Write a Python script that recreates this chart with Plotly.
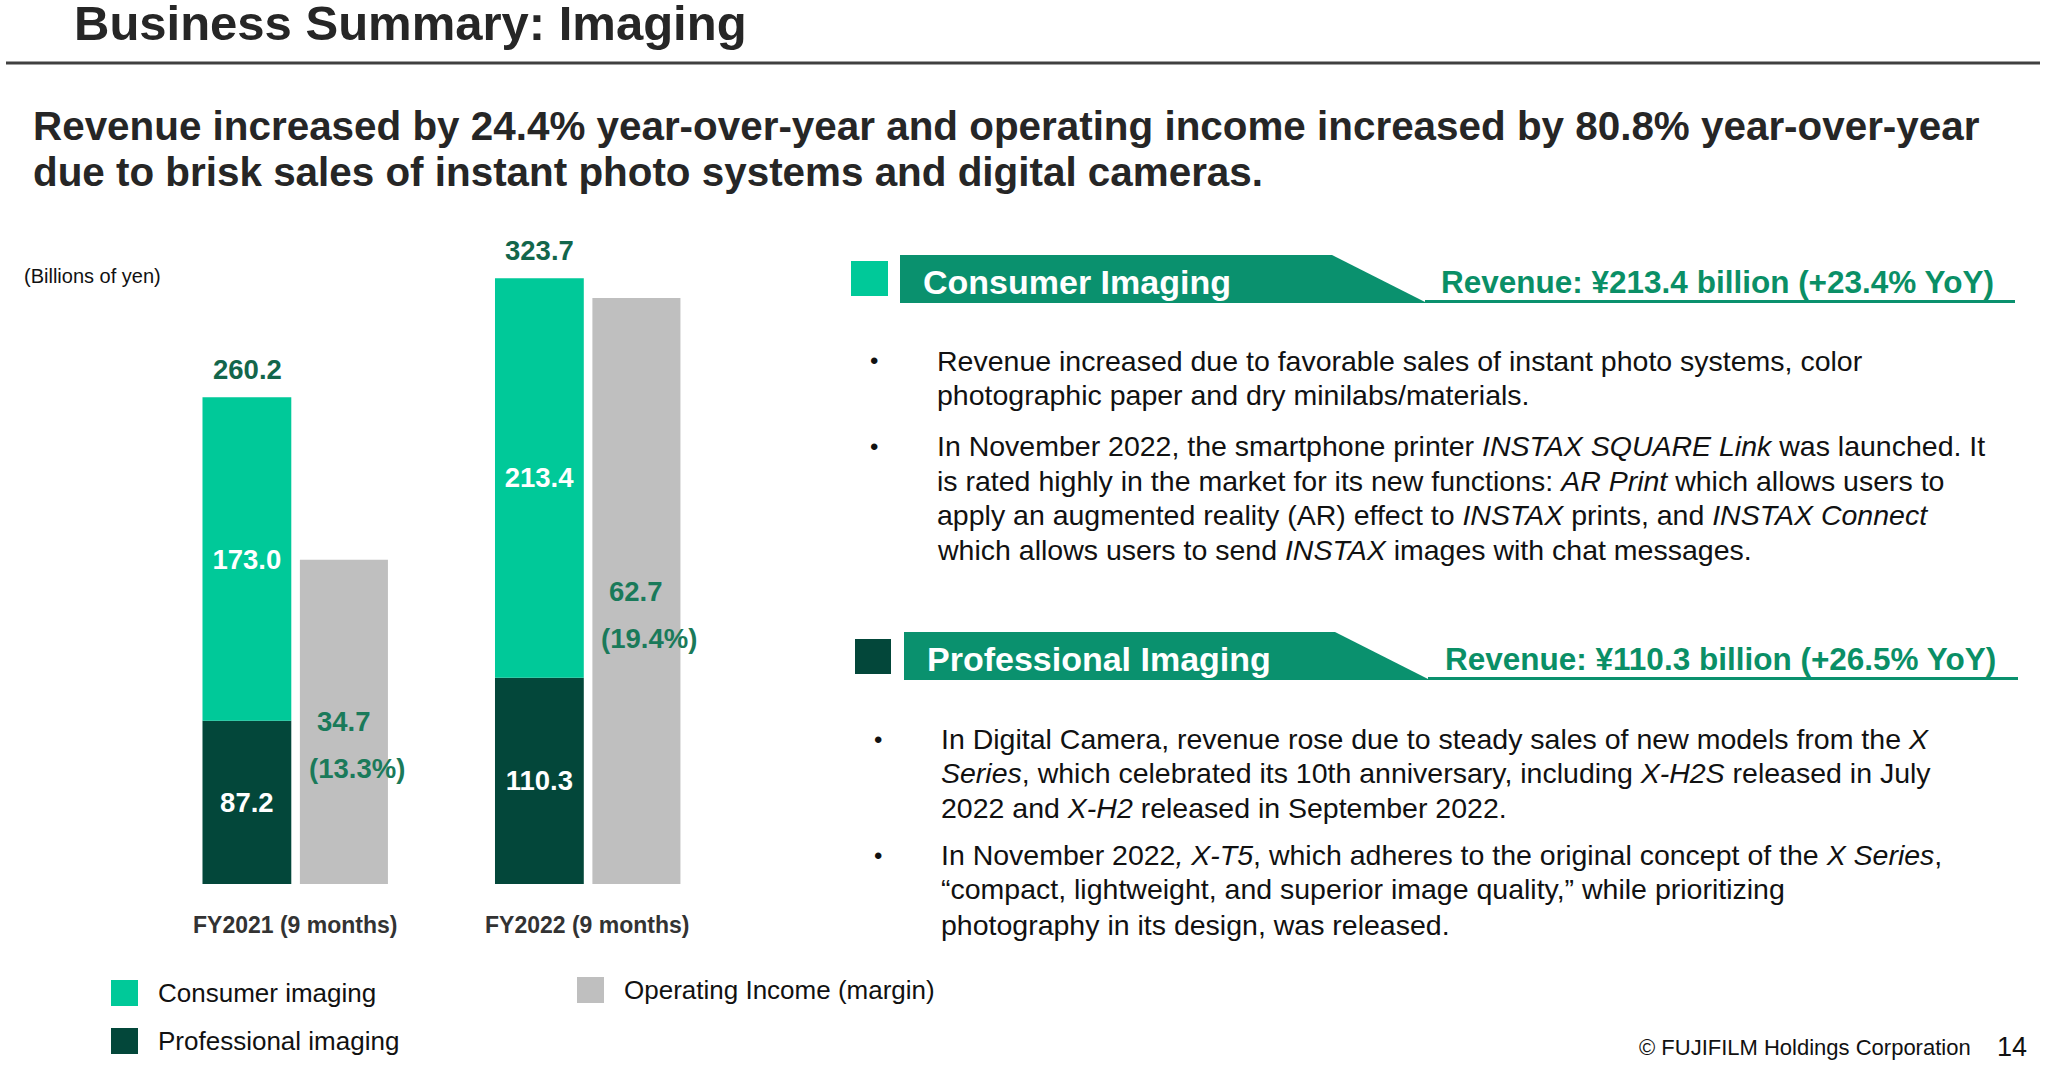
import plotly.graph_objects as go

# ---------------- data ----------------
categories = ["FY2021 (9 months)", "FY2022 (9 months)"]
consumer = [173.0, 213.4]
professional = [87.2, 110.3]
op_income = [34.7, 62.7]
op_margin = [13.3, 19.4]
legend_labels = ["Consumer imaging", "Professional imaging", "Operating Income (margin)"]

title_text = "Business Summary: Imaging"
subtitle_lines = [
    "Revenue increased by 24.4% year-over-year and operating income increased by 80.8% year-over-year",
    "due to brisk sales of instant photo systems and digital cameras.",
]
unit_text = "(Billions of yen)"

seg_names = ["Consumer Imaging", "Professional Imaging"]
seg_revenue = ["Revenue: ¥213.4 billion (+23.4% YoY)", "Revenue: ¥110.3 billion (+26.5% YoY)"]
consumer_bullets = [
    ["Revenue increased due to favorable sales of instant photo systems, color",
     "photographic paper and dry minilabs/materials."],
    ["In November 2022, the smartphone printer <i>INSTAX SQUARE Link</i> was launched. It",
     "is rated highly in the market for its new functions: <i>AR Print</i> which allows users to",
     "apply an augmented reality (AR) effect to <i>INSTAX</i> prints, and <i>INSTAX Connect</i>",
     "which allows users to send <i>INSTAX</i> images with chat messages."],
]
professional_bullets = [
    ["In Digital Camera, revenue rose due to steady sales of new models from the <i>X</i>",
     "<i>Series</i>, which celebrated its 10th anniversary, including <i>X-H2S</i> released in July",
     "2022 and <i>X-H2</i> released in September 2022."],
    ["In November 2022<i>, X-T5</i>, which adheres to the original concept of the <i>X Series</i>,",
     "“compact, lightweight, and superior image quality,” while prioritizing",
     "photography in its design, was released."],
]
footer_text = "© FUJIFILM Holdings Corporation"
page_no = "14"

# ---------------- style ----------------
W, H = 2048, 1080
FONT = "Liberation Sans"
C_TEAL = "#00C999"
C_DARK = "#03473A"
C_GRAY = "#BFBFBF"
C_BANNER = "#0A916E"
C_REV = "#0A8F66"
C_TOTAL = "#13664B"
C_OPLBL = "#1A7A5A"


def px(x):
    return x / W


def py(y):
    return 1 - y / H


totals = [round(c + p, 1) for c, p in zip(consumer, professional)]

fig = go.Figure()
fig.add_trace(go.Bar(
    x=categories, y=professional, name=legend_labels[1],
    marker=dict(color=C_DARK, line=dict(width=0)),
    width=0.3036, offset=-0.317,
    texttemplate="%{y:.1f}", textposition="inside", insidetextanchor="middle",
    textangle=0, textfont=dict(family=FONT, size=27.5, color="white", weight="bold"),
    showlegend=False, yaxis="y",
))
fig.add_trace(go.Bar(
    x=categories, y=consumer, base=professional, name=legend_labels[0],
    marker=dict(color=C_TEAL, line=dict(width=0)),
    width=0.3036, offset=-0.317,
    texttemplate="%{y:.1f}", textposition="inside", insidetextanchor="middle",
    textangle=0, textfont=dict(family=FONT, size=27.5, color="white", weight="bold"),
    showlegend=False, yaxis="y",
))
fig.add_trace(go.Bar(
    x=categories, y=op_income, name=legend_labels[2],
    marker=dict(color=C_GRAY, line=dict(width=0)),
    width=0.301, offset=0.016,
    showlegend=False, yaxis="y2",
))

annotations = []
shapes = []

# totals above stacked bars
for cat, t in zip(categories, totals):
    annotations.append(dict(x=cat, y=t, xref="x", yref="y", text=f"{t:.1f}",
                            xshift=-0.1635 * 292.5, yshift=28, showarrow=False,
                            xanchor="center", yanchor="middle",
                            font=dict(family=FONT, size=27.5, color=C_TOTAL, weight="bold")))
# operating income labels
for cat, v, m in zip(categories, op_income, op_margin):
    annotations.append(dict(x=cat, y=v / 2, xref="x", yref="y2", text=f"{v:.1f}",
                            xshift=0.1665 * 292.5, yshift=0, showarrow=False,
                            xanchor="center", yanchor="middle",
                            font=dict(family=FONT, size=27.5, color=C_OPLBL, weight="bold")))
    annotations.append(dict(x=cat, y=v / 2, xref="x", yref="y2", text=f"({m:.1f}%)",
                            xshift=0.1665 * 292.5 + 13, yshift=-47, showarrow=False,
                            xanchor="center", yanchor="middle",
                            font=dict(family=FONT, size=27.5, color=C_OPLBL, weight="bold")))
# category labels
for cat in categories:
    annotations.append(dict(x=cat, y=py(925), xref="x", yref="paper", text=cat,
                            showarrow=False, xanchor="center", yanchor="middle",
                            font=dict(family=FONT, size=23, color="#333333", weight="bold")))

# title / subtitle
annotations.append(dict(x=px(72), y=py(23), xref="paper", yref="paper", text=title_text,
                        showarrow=False, xanchor="left", yanchor="middle",
                        font=dict(family=FONT, size=49, color="#262626", weight="bold")))
shapes.append(dict(type="line", xref="paper", yref="paper", x0=px(6), x1=px(2040),
                   y0=py(63), y1=py(63), line=dict(color="#404040", width=3)))
for i, (line, yy) in enumerate(zip(subtitle_lines, [126, 172])):
    annotations.append(dict(x=px(31), y=py(yy), xref="paper", yref="paper", text=line,
                            showarrow=False, xanchor="left", yanchor="middle",
                            font=dict(family=FONT, size=40.4, color="#262626", weight="bold")))
annotations.append(dict(x=px(22), y=py(276), xref="paper", yref="paper", text=unit_text,
                        showarrow=False, xanchor="left", yanchor="middle",
                        font=dict(family=FONT, size=20, color="#111111")))

# legend
leg_items = [
    (legend_labels[0], C_TEAL, 111, 980),
    (legend_labels[1], C_DARK, 111, 1028),
    (legend_labels[2], C_GRAY, 577, 977),
]
for lbl, col, lx, ly in leg_items:
    shapes.append(dict(type="rect", xref="paper", yref="paper", x0=px(lx), x1=px(lx + 27),
                       y0=py(ly), y1=py(ly + 26), fillcolor=col, line=dict(width=0)))
    annotations.append(dict(x=px(lx + 45), y=py(ly + 13), xref="paper", yref="paper", text=lbl,
                            showarrow=False, xanchor="left", yanchor="middle",
                            font=dict(family=FONT, size=26, color="#111111")))

# right panel headers
headers = [
    dict(name=seg_names[0], rev=seg_revenue[0], sqc=C_TEAL, sq=(851, 261, 888, 296),
         left=900, top=255, bottom=303, tr=1332, br=1427, end=2015, tx=921, rx=1996),
    dict(name=seg_names[1], rev=seg_revenue[1], sqc=C_DARK, sq=(855, 639, 891, 674),
         left=904, top=632, bottom=680, tr=1335, br=1430, end=2018, tx=925, rx=1998),
]
for hd in headers:
    x0, y0, x1, y1 = hd["sq"]
    shapes.append(dict(type="rect", xref="paper", yref="paper", x0=px(x0), x1=px(x1),
                       y0=py(y0), y1=py(y1), fillcolor=hd["sqc"], line=dict(width=0)))
    path = (f"M {px(hd['left'])},{py(hd['top'])} L {px(hd['tr'])},{py(hd['top'])} "
            f"L {px(hd['br'])},{py(hd['bottom'])} L {px(hd['left'])},{py(hd['bottom'])} Z")
    shapes.append(dict(type="path", xref="paper", yref="paper", path=path,
                       fillcolor=C_BANNER, line=dict(width=0)))
    shapes.append(dict(type="line", xref="paper", yref="paper", x0=px(hd["br"] - 2), x1=px(hd["end"]),
                       y0=py(hd["bottom"] - 1.5), y1=py(hd["bottom"] - 1.5),
                       line=dict(color=C_BANNER, width=3)))
    cy = (hd["top"] + hd["bottom"]) / 2 + 3
    annotations.append(dict(x=px(hd["tx"]), y=py(cy), xref="paper", yref="paper", text=hd["name"],
                            showarrow=False, xanchor="left", yanchor="middle",
                            font=dict(family=FONT, size=34, color="white", weight="bold")))
    annotations.append(dict(x=px(hd["rx"]), y=py(cy), xref="paper", yref="paper", text=hd["rev"],
                            showarrow=False, xanchor="right", yanchor="middle",
                            font=dict(family=FONT, size=31.5, color=C_REV, weight="bold")))

# bullets
bullet_blocks = [
    (consumer_bullets, [[360.5, 394.5], [446.5, 480.5, 514.5, 549.5]], 874, 935),
    (professional_bullets, [[739, 773, 808], [855, 889, 924.5]], 878, 939),
]
for bullets, ys, bx, tx in bullet_blocks:
    for lines, yl in zip(bullets, ys):
        annotations.append(dict(x=px(bx), y=py(yl[0]), xref="paper", yref="paper", text="•",
                                showarrow=False, xanchor="center", yanchor="middle",
                                font=dict(family=FONT, size=24, color="#111111")))
        for ln, yy in zip(lines, yl):
            annotations.append(dict(x=px(tx), y=py(yy), xref="paper", yref="paper", text=ln,
                                    showarrow=False, xanchor="left", yanchor="middle",
                                    font=dict(family=FONT, size=28.5, color="#111111")))

# footer
annotations.append(dict(x=px(1973), y=py(1047), xref="paper", yref="paper", text=footer_text,
                        showarrow=False, xanchor="right", yanchor="middle",
                        font=dict(family=FONT, size=22, color="#111111")))
annotations.append(dict(x=px(2029), y=py(1047), xref="paper", yref="paper", text=page_no,
                        showarrow=False, xanchor="right", yanchor="middle",
                        font=dict(family=FONT, size=27, color="#111111")))

PLOT_TOP, PLOT_BOTTOM = 234, 884
plot_h = PLOT_BOTTOM - PLOT_TOP
fig.update_layout(
    width=W, height=H,
    margin=dict(l=0, r=0, t=0, b=0),
    paper_bgcolor="white", plot_bgcolor="rgba(0,0,0,0)",
    barmode="overlay",
    showlegend=False,
    xaxis=dict(domain=[px(100), px(790)], range=[-0.6674, 1.6916], type="category",
               visible=False, fixedrange=True),
    yaxis=dict(domain=[py(PLOT_BOTTOM), py(PLOT_TOP)], range=[0, plot_h / 1.871],
               visible=False, fixedrange=True),
    yaxis2=dict(domain=[py(PLOT_BOTTOM), py(PLOT_TOP)], range=[0, plot_h / 9.345],
                overlaying="y", visible=False, fixedrange=True),
    annotations=annotations,
    shapes=shapes,
    font=dict(family=FONT),
)

fig.write_html("out.html")
